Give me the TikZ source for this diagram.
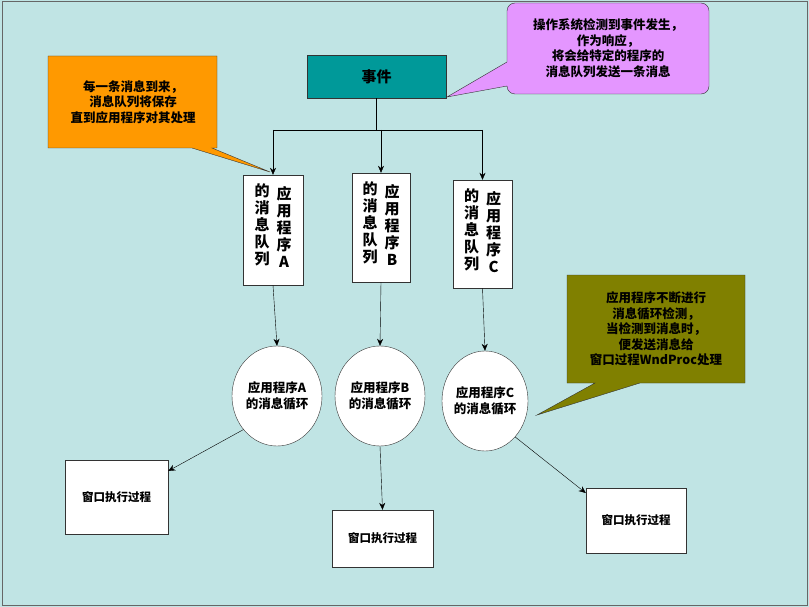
\documentclass[tikz,border=0pt]{standalone}
\usepackage{fontspec}
\setmainfont{Noto Sans CJK SC}
\usetikzlibrary{arrows.meta,shapes.geometric}
\definecolor{bg}{RGB}{192,228,228}
\definecolor{teal1}{RGB}{0,153,153}
\definecolor{vio}{RGB}{228,150,255}
\definecolor{org}{RGB}{255,153,0}
\definecolor{olv}{RGB}{128,128,0}
\tikzset{
 box/.style={draw=black!80,fill=white,inner sep=0pt},
 txt/.style={font=\bfseries\fontsize{12.5}{15.5}\selectfont,align=center},
 el/.style={draw=black!80,fill=white,ellipse},
 arr/.style={-{Stealth[length=7pt,width=6pt]},black},
 ln/.style={black},
 vt/.style={font=\bfseries\fontsize{15}{17}\selectfont,align=center,anchor=north}
}
\begin{document}
\begin{tikzpicture}[x=1pt,y=-1pt]
\fill[bg] (0,0) rectangle (809,607);
\draw[black!60,line width=1pt] (2,2) rectangle (807,605);
% event
\node[draw=black!80,fill=teal1,minimum width=139,minimum height=43,font=\bfseries\fontsize{15}{17}\selectfont] (ev) at (376.5,76.5) {事件};
% right callout
\draw[black!80,fill=vio,rounded corners=8] (507,3) -- (709,3) -- (709,94) -- (507,94) [sharp corners] -- (507,86) -- (447,97) -- (507,62) [rounded corners=8] -- cycle;
\node[txt] (t1) at (608,48) {操作系统检测到事件发生，\\作为响应，\\将会给特定的程序的\\消息队列发送一条消息};
% queues
\node[box,minimum width=60,minimum height=110] (qa) at (273,230) {};
\node[box,minimum width=58,minimum height=109] (qb) at (381,227.5) {};
\node[box,minimum width=59,minimum height=108] (qc) at (482.5,234) {};
\foreach \q/\L in {qa/A,qb/B,qc/C}{
 \node[vt] at ([xshift=11,yshift=-8]\q.north) {应\\用\\程\\序\\\L};
 \node[vt] at ([xshift=-11,yshift=-5]\q.north) {的\\消\\息\\队\\列};
}
% left callout
\draw[black!80,fill=org] (48,56) -- (217,56) -- (217,148) -- (212,148) -- (270,172) -- (192,148) -- (48,148) -- cycle;
\node[txt] (t2) at (133,102) {每一条消息到来，\\消息队列将保存\\直到应用程序对其处理};
% tree
\coordinate (j) at (376.5,130);
\draw[ln] (ev.south) -- (j);
\draw[ln] (qa.north |- j) -- (qc.north |- j);
\draw[arr] (qa.north |- j) -- (qa.north);
\draw[arr] (qb.north |- j) -- (qb.north);
\draw[arr] (qc.north |- j) -- (qc.north);
% ellipses
\node[el,minimum width=90,minimum height=100,inner sep=0] (la) at (277,396) {};
\node[el,minimum width=90,minimum height=100,inner sep=0] (lb) at (380,396) {};
\node[el,minimum width=86,minimum height=100,inner sep=0] (lc) at (485,401) {};
\node[txt] at (la) {应用程序A\\的消息循环};
\node[txt] at (lb) {应用程序B\\的消息循环};
\node[txt] at (lc) {应用程序C\\的消息循环};
\draw[arr] (qa.south) -- (la.north);
\draw[arr] (qb.south) -- (lb.north);
\draw[arr] (qc.south) -- (lc.north);
% olive callout
\draw[black!80,fill=olv] (567,275) -- (745,275) -- (745,383) -- (640,383) -- (537,415) -- (595,383) -- (567,383) -- cycle;
\node[txt] (t3) at (656,329) {应用程序不断进行\\消息循环检测，\\当检测到消息时，\\便发送消息给\\窗口过程WndProc处理};
% windows
\node[box,minimum width=103,minimum height=74,font=\bfseries\fontsize{11.5}{13}\selectfont] (wa) at (116.5,497) {窗口执行过程};
\node[box,minimum width=101,minimum height=57,font=\bfseries\fontsize{11.5}{13}\selectfont] (wb) at (382.5,538.5) {窗口执行过程};
\node[box,minimum width=100,minimum height=65,font=\bfseries\fontsize{11.5}{13}\selectfont] (wc) at (636,520.5) {窗口执行过程};
\draw[arr] (la.225) -- (wa.east |- 0,471);
\draw[arr] (lb.south) -- (wb.north);
\draw[arr] (lc.-50) -- (wc.west |- 0,493);
\end{tikzpicture}
\end{document}
